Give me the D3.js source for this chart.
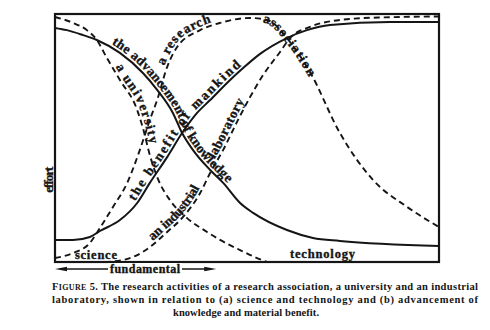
<!DOCTYPE html>
<html><head><meta charset="utf-8">
<script src="https://cdn.jsdelivr.net/npm/d3@7/dist/d3.min.js"></script>
<style>
html,body{margin:0;padding:0;background:#fff;}
svg{display:block;}
text{font-family:"Liberation Serif","Times New Roman",serif;font-weight:bold;fill:#151515;}
text.lbl{stroke:#151515;stroke-width:0.35px;}
</style></head><body>
<svg id="chart" width="490" height="330"></svg>
<script>
// ---- data (x: 0 = fundamental science ... 100 = technology, y: effort 0..100) ----
const advancementOfKnowledge = [[0,94.4],[3.1,93.5],[7.3,91.5],[10.9,89.5],[16.9,84.3],[22.9,76.2],[26.6,69.4],[30.7,60.1],[33.1,52.0],[35.9,45.2],[40.4,37.1],[43.8,31.9],[48.2,23.8],[51.6,19.8],[60.4,12.9],[67.2,9.7],[74.2,8.5],[100,6.5]];
const benefitOfMankind = [[0,8.9],[4.7,8.9],[9.1,10.1],[11.7,12.5],[16.9,16.9],[21.4,23.8],[24.7,31.9],[29.2,42.3],[33.1,52.0],[37.0,60.1],[40.4,65.3],[45.6,73.4],[49.0,78.2],[53.4,83.9],[60.4,90.3],[65.6,93.5],[71.6,95.6],[87.2,96.8],[100,96.8]];
const university = [[0,98.8],[4.7,96.4],[8.3,93.5],[10.9,89.5],[13.5,82.3],[16.9,73.4],[21.4,61.3],[22.9,54.0],[24.7,43.1],[26.6,34.3],[29.9,25.0],[34.4,17.7],[39.6,12.1],[43.0,8.9],[48.2,4.8],[52.6,1.6],[55.2,0]];
const researchAssociation = [[0,1.6],[4.7,3.6],[9.1,7.7],[11.7,13.7],[15.1,22.2],[18.8,31.9],[22.1,45.2],[24.7,57.3],[26.6,65.3],[29.2,78.6],[31.8,86.7],[37.8,93.5],[43.0,96.4],[50.8,98.4],[55.2,97.6],[61.2,88.7],[66.4,76.6],[74.2,52.0],[82.8,33.1],[91.7,22.2],[100,14.1]];
const industrialLaboratory = [[13.0,0],[17.7,0.8],[21.4,2.8],[24.7,6.0],[29.2,12.1],[33.3,18.1],[37.8,27.8],[40.4,35.9],[43.8,45.2],[47.4,56.5],[50.8,66.5],[54.2,75.4],[58.6,84.7],[61.2,90.3],[66.4,94.8],[74.2,97.6],[84.6,98.6],[100,99.0]];

const seriesNames = ["advancement","benefit","university","research","industrial"];
const seriesData = {advancement:advancementOfKnowledge, benefit:benefitOfMankind, university:university, research:researchAssociation, industrial:industrialLaboratory};
const seriesDashed = {advancement:false, benefit:false, university:true, research:true, industrial:true};

// labels written along the curves: text, curve, x-range (data units)
const labelTexts  = ["the advancement of knowledge","the benefit of mankind","a university","a research","association","an industrial","laboratory"];
const labelSeries = ["advancement","benefit","university","research","research","industrial","industrial"];
const labelFrom   = [14.3, 21.4, 15.1, 29.2, 54.2, 26.0, 42.2];
const labelTo     = [44.3, 49.0, 24.0, 40.9, 66.9, 38.3, 50.0];
const labelDy     = [-3, -3, -3, -3, 3.5, -3, -3];

const yAxisLabel = "effort";
const leftEndLabel = "science";
const rightEndLabel = "technology";
const arrowLabel = "fundamental";
const captionLines = [
  ["F","IGURE"," 5. The research activities of a research association, a university and an industrial"],
  ["","","laboratory, shown in relation to (a) science and technology and (b) advancement of"],
  ["","","knowledge and material benefit."]
];

// ---- drawing ----
const W = 490, H = 330;
const m = {left:55, right:51, top:14, bottom:68};
const svg = d3.select("#chart");
const x = d3.scaleLinear().domain([0,100]).range([m.left, W - m.right]);
const y = d3.scaleLinear().domain([0,100]).range([H - m.bottom, m.top]);
const ink = "#151515";

const line = d3.line().x(d => x(d[0])).y(d => y(d[1])).curve(d3.curveMonotoneX);

const g = svg.append("g");
seriesNames.forEach(name => {
  g.append("path")
    .attr("id", "curve-" + name)
    .attr("d", line(seriesData[name]))
    .attr("fill", "none")
    .attr("stroke", ink)
    .attr("stroke-width", seriesDashed[name] ? 1.9 : 2)
    .attr("stroke-dasharray", seriesDashed[name] ? "6,4" : null)
    .attr("stroke-linecap", "butt");
});

// frame
svg.append("rect")
  .attr("x", x(0)).attr("y", y(100))
  .attr("width", x(100) - x(0)).attr("height", y(0) - y(100))
  .attr("fill", "none").attr("stroke", ink).attr("stroke-width", 2.2);

function lengthAtX(node, px) {
  let lo = 0, hi = node.getTotalLength();
  for (let i = 0; i < 40; i++) {
    const mid = (lo + hi) / 2;
    if (node.getPointAtLength(mid).x < px) lo = mid; else hi = mid;
  }
  return lo;
}
const measure = svg.append("text").attr("x", -1000).attr("y", -1000);
function spacingFor(t, size, target) {
  measure.attr("font-size", size).text(t);
  const natural = measure.node().getComputedTextLength();
  return ((target - natural) / Math.max(1, t.length - 1)).toFixed(2);
}
const labelFont = 13.5;
labelTexts.forEach((t, i) => {
  const node = document.getElementById("curve-" + labelSeries[i]);
  const l0 = lengthAtX(node, x(labelFrom[i]));
  const l1 = lengthAtX(node, x(labelTo[i]));
  svg.append("text")
    .attr("class", "lbl")
    .attr("font-size", labelFont)
    .attr("dy", labelDy[i])
    .attr("letter-spacing", spacingFor(t, labelFont, l1 - l0))
    .append("textPath")
    .attr("href", "#curve-" + labelSeries[i])
    .attr("startOffset", l0)
    .text(t);
});

// axis label
svg.append("text")
  .attr("class", "lbl")
  .attr("transform", `translate(${x(0) - 2.5},${y(33)}) rotate(-90)`)
  .attr("text-anchor", "middle")
  .attr("font-size", 13)
  .attr("letter-spacing", spacingFor(yAxisLabel, 13, 26))
  .text(yAxisLabel);

// end labels
svg.append("text").attr("class", "lbl").attr("x", x(5.2)).attr("y", y(0) - 3.5).attr("font-size", 12.5)
  .attr("letter-spacing", spacingFor(leftEndLabel, 12.5, 42)).text(leftEndLabel);
svg.append("text").attr("class", "lbl").attr("x", x(61.2)).attr("y", y(0) - 4.5).attr("font-size", 12.5)
  .attr("letter-spacing", spacingFor(rightEndLabel, 12.5, 65)).text(rightEndLabel);

// fundamental arrow
const ay = y(0) + 7;
const ax0 = x(0), ax1 = x(42);
svg.append("line").attr("x1", ax0 + 6).attr("x2", ax1 - 6).attr("y1", ay).attr("y2", ay)
  .attr("stroke", ink).attr("stroke-width", 1.6);
svg.append("path").attr("d", `M${ax0},${ay} L${ax0 + 12},${ay - 2.2} L${ax0 + 12},${ay + 2.2} Z`).attr("fill", ink);
svg.append("path").attr("d", `M${ax1},${ay} L${ax1 - 12},${ay - 2.2} L${ax1 - 12},${ay + 2.2} Z`).attr("fill", ink);
const fx = 110;
svg.append("rect").attr("x", fx - 2).attr("y", ay - 6).attr("width", 74).attr("height", 11).attr("fill", "#fff");
svg.append("text").attr("class", "lbl").attr("x", fx).attr("y", ay + 4)
  .attr("font-size", 12).attr("letter-spacing", spacingFor(arrowLabel, 12, 70)).text(arrowLabel);
measure.remove();

// caption
const capX = [52, 52, 173];
const capLen = [426, 426, 146];
const capY = [290, 303, 316];
captionLines.forEach((parts, i) => {
  const t = svg.append("text").attr("x", capX[i]).attr("y", capY[i]).attr("font-size", 10.5)
    .attr("textLength", capLen[i]).attr("lengthAdjust", "spacing");
  if (parts[0]) t.append("tspan").text(parts[0]);
  if (parts[1]) t.append("tspan").attr("font-size", 8).text(parts[1]);
  t.append("tspan").text(parts[2]);
});
</script>
</body></html>
